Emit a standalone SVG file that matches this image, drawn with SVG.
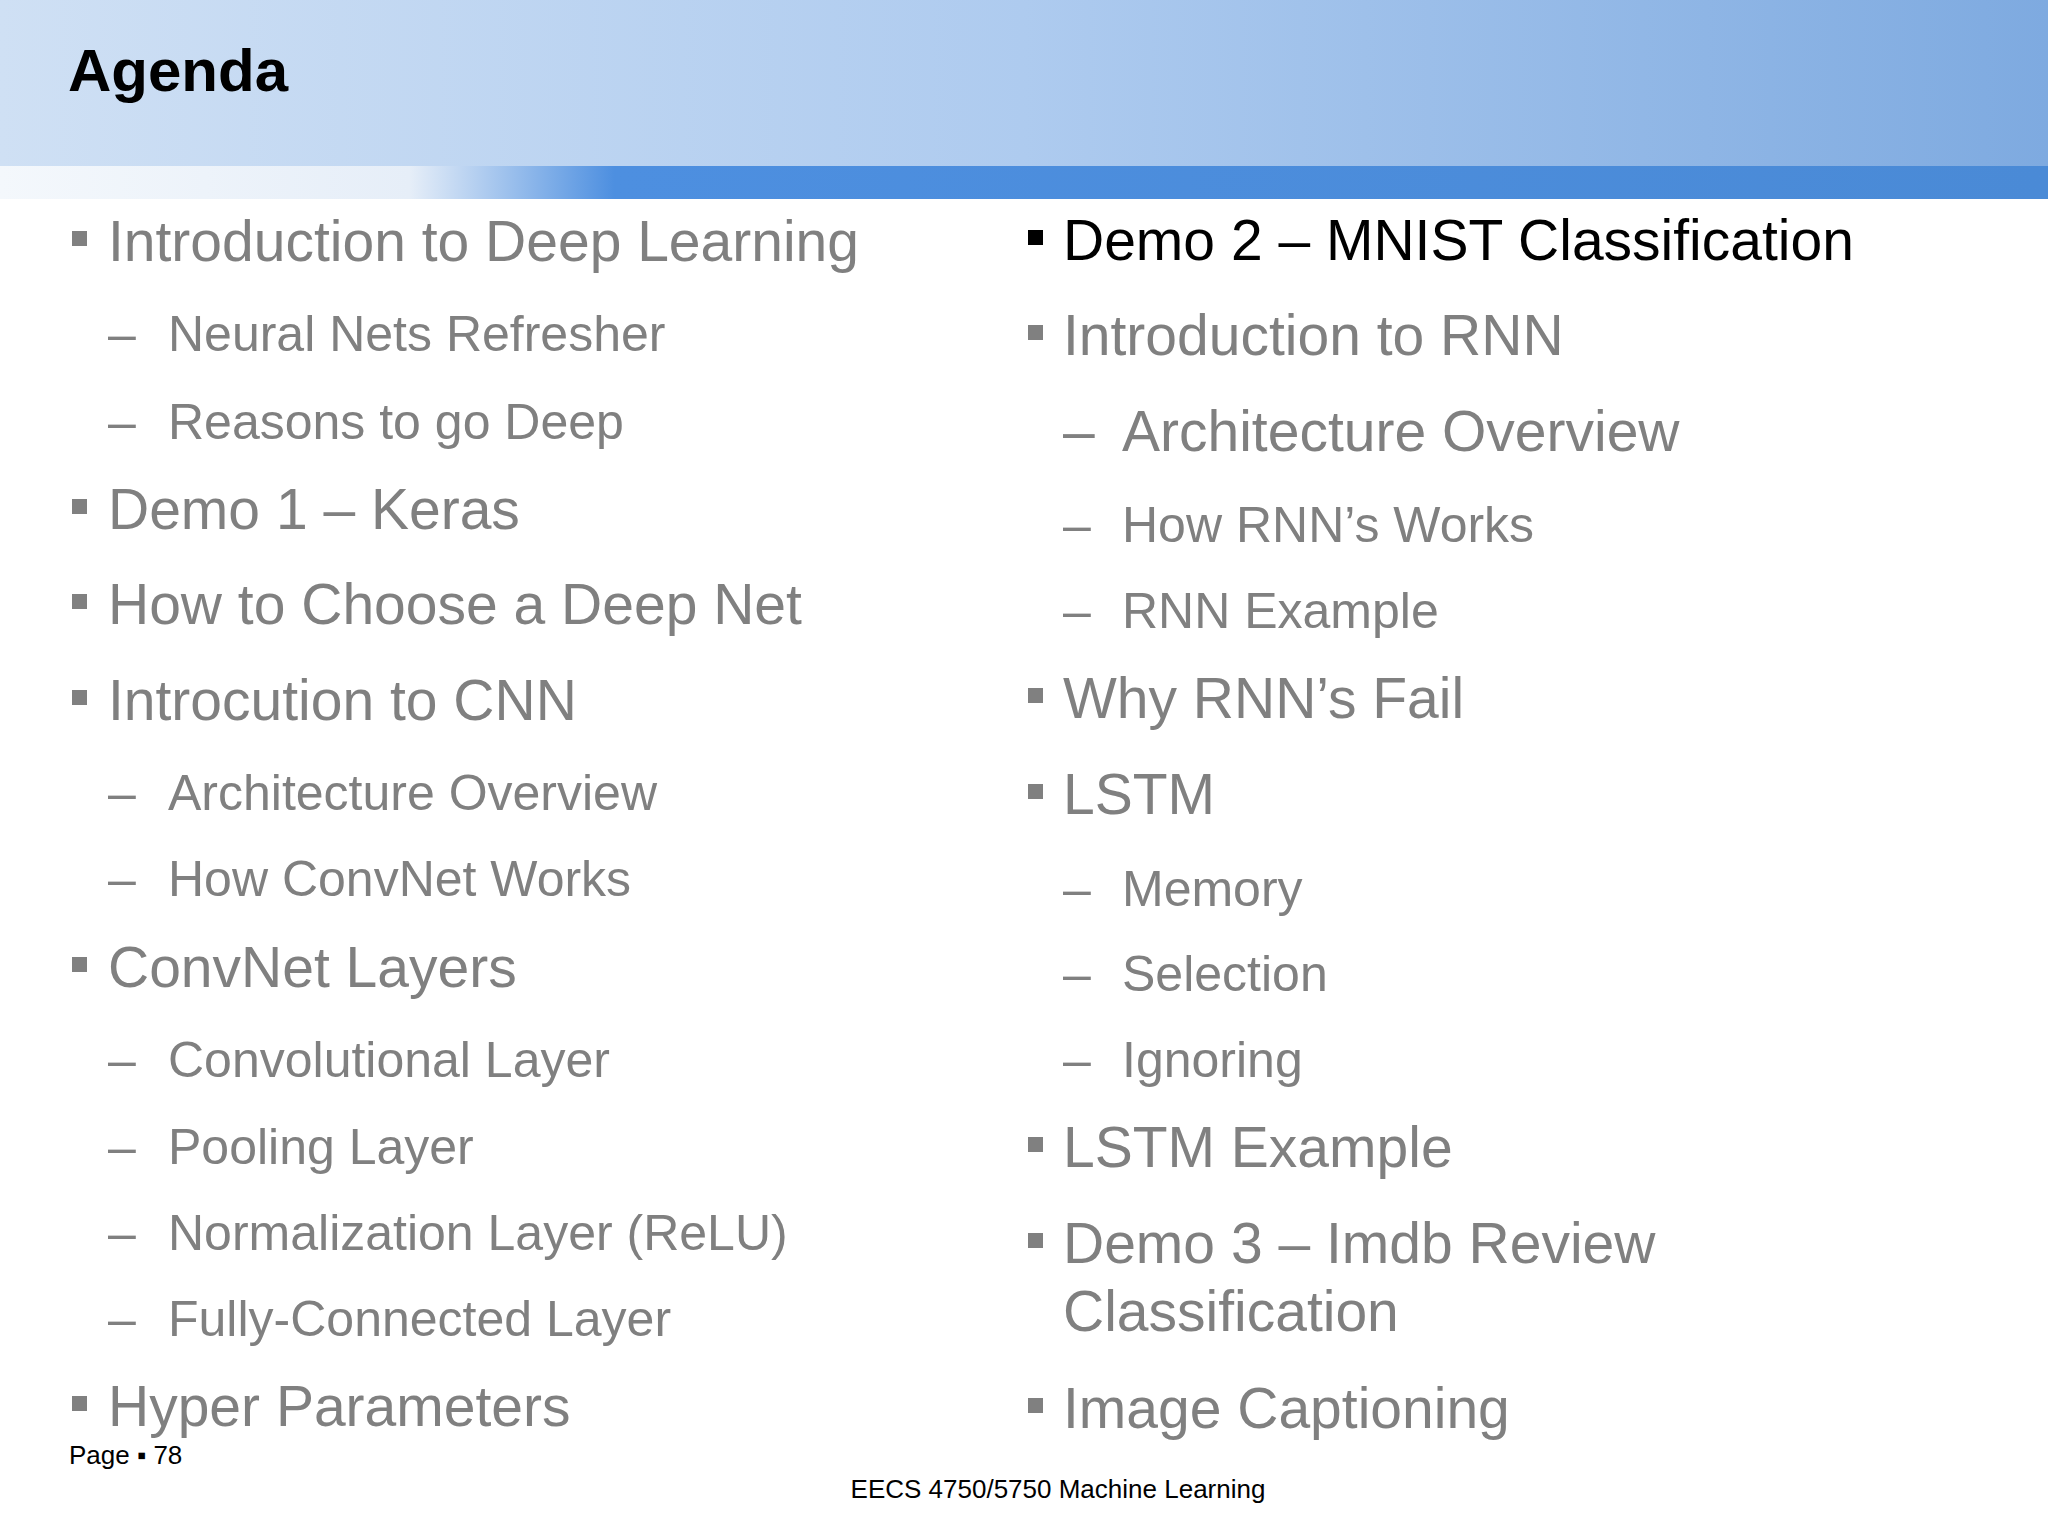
<svg xmlns="http://www.w3.org/2000/svg" width="2048" height="1536" viewBox="0 0 2048 1536">
<defs>
<linearGradient id="hdr" x1="0" x2="1" y1="0" y2="0"><stop offset="0" stop-color="#cfe0f4"/><stop offset="0.5" stop-color="#aecbef"/><stop offset="1" stop-color="#7eaae0"/></linearGradient>
<linearGradient id="band" x1="0" x2="1" y1="0" y2="0"><stop offset="0" stop-color="#f4f8fc"/><stop offset="0.2" stop-color="#e6eef8"/><stop offset="0.3" stop-color="#4d8fe0"/><stop offset="1" stop-color="#4a8ad6"/></linearGradient>
<style>
text{font-family:"Liberation Sans",Arial,sans-serif;fill:#808080}
.m{font-size:57px}.s{font-size:50px}
.t{font-size:60px;font-weight:bold;fill:#000}
.f{font-size:26px;fill:#000}
.b{fill:#808080}
</style>
</defs>
<rect width="2048" height="1536" fill="#fff"/>
<rect width="2048" height="166" fill="url(#hdr)"/>
<rect y="166" width="2048" height="33" fill="url(#band)"/>
<text class="t" x="68" y="91">Agenda</text>
<g id="left">
<rect class="b" x="72" y="231" width="15" height="15"/><text class="m" x="108" y="261">Introduction to Deep Learning</text>
<text class="s" x="108" y="351">–</text><text class="s" x="168" y="351">Neural Nets Refresher</text>
<text class="s" x="108" y="439">–</text><text class="s" x="168" y="439">Reasons to go Deep</text>
<rect class="b" x="72" y="499" width="15" height="15"/><text class="m" x="108" y="529">Demo 1 – Keras</text>
<rect class="b" x="72" y="594" width="15" height="15"/><text class="m" x="108" y="624">How to Choose a Deep Net</text>
<rect class="b" x="72" y="690" width="15" height="15"/><text class="m" x="108" y="720">Introcution to CNN</text>
<text class="s" x="108" y="810">–</text><text class="s" x="168" y="810">Architecture Overview</text>
<text class="s" x="108" y="896">–</text><text class="s" x="168" y="896">How ConvNet Works</text>
<rect class="b" x="72" y="957" width="15" height="15"/><text class="m" x="108" y="987">ConvNet Layers</text>
<text class="s" x="108" y="1077">–</text><text class="s" x="168" y="1077">Convolutional Layer</text>
<text class="s" x="108" y="1164">–</text><text class="s" x="168" y="1164">Pooling Layer</text>
<text class="s" x="108" y="1250">–</text><text class="s" x="168" y="1250">Normalization Layer (ReLU)</text>
<text class="s" x="108" y="1336">–</text><text class="s" x="168" y="1336">Fully-Connected Layer</text>
<rect class="b" x="72" y="1396" width="15" height="15"/><text class="m" x="108" y="1426">Hyper Parameters</text>
</g>
<g id="right">
<rect x="1028" y="230" width="15" height="15" fill="#000"/><text class="m" x="1063" y="260" style="fill:#000">Demo 2 – MNIST Classification</text>
<rect class="b" x="1028" y="325" width="15" height="15"/><text class="m" x="1063" y="355">Introduction to RNN</text>
<text class="m" x="1063" y="451">–</text><text class="m" x="1122" y="451">Architecture Overview</text>
<text class="s" x="1063" y="542">–</text><text class="s" x="1122" y="542">How RNN’s Works</text>
<text class="s" x="1063" y="628">–</text><text class="s" x="1122" y="628">RNN Example</text>
<rect class="b" x="1028" y="688" width="15" height="15"/><text class="m" x="1063" y="718">Why RNN’s Fail</text>
<rect class="b" x="1028" y="784" width="15" height="15"/><text class="m" x="1063" y="814">LSTM</text>
<text class="s" x="1063" y="906">–</text><text class="s" x="1122" y="906">Memory</text>
<text class="s" x="1063" y="991">–</text><text class="s" x="1122" y="991">Selection</text>
<text class="s" x="1063" y="1077">–</text><text class="s" x="1122" y="1077">Ignoring</text>
<rect class="b" x="1028" y="1137" width="15" height="15"/><text class="m" x="1063" y="1167">LSTM Example</text>
<rect class="b" x="1028" y="1233" width="15" height="15"/><text class="m" x="1063" y="1263">Demo 3 – Imdb Review</text>
<text class="m" x="1063" y="1331">Classification</text>
<rect class="b" x="1028" y="1398" width="15" height="15"/><text class="m" x="1063" y="1428">Image Captioning</text>
</g>
<text class="f" x="69" y="1464">Page ▪ 78</text>
<text class="f" x="1058" y="1498" text-anchor="middle">EECS 4750/5750 Machine Learning</text>
</svg>
